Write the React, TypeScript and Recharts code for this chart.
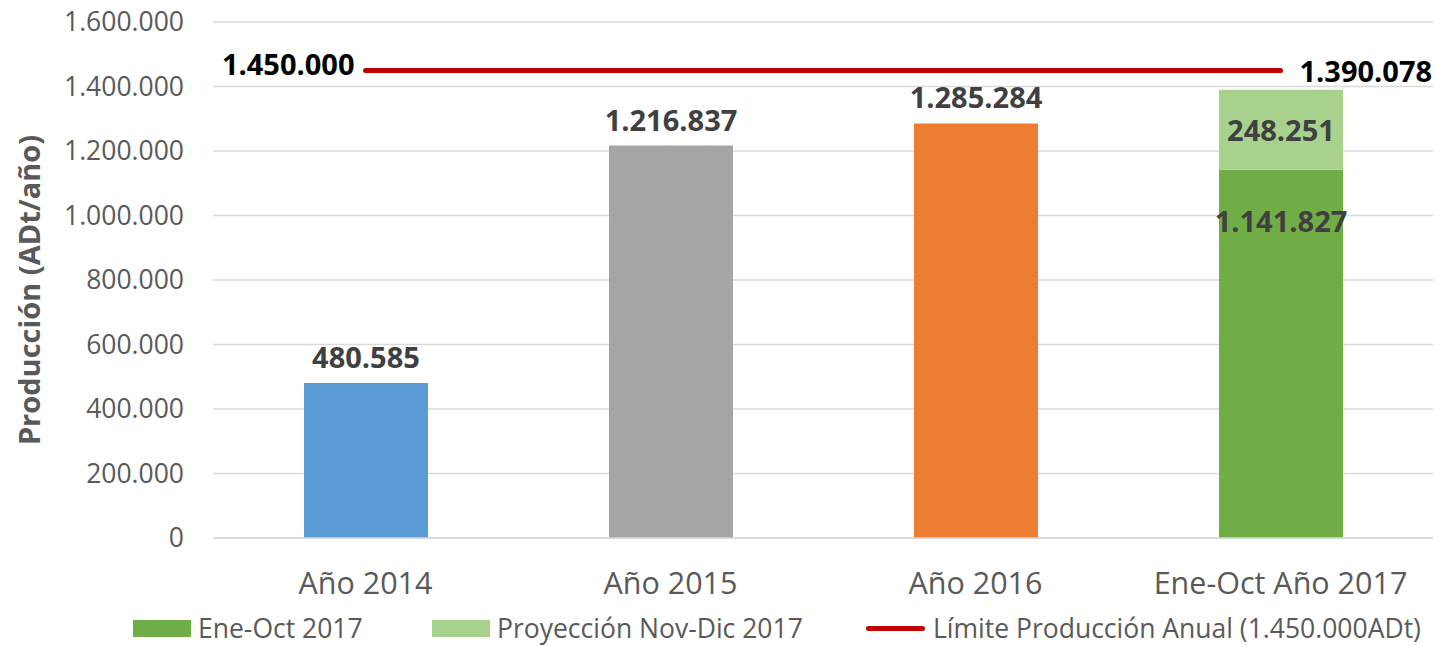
import React from 'react';
import { ComposedChart, Bar, Line, XAxis, YAxis, CartesianGrid, Cell, LabelList, Legend } from 'recharts';

const categories = ['Año 2014', 'Año 2015', 'Año 2016', 'Ene-Oct Año 2017'];
const mainValues = [480585, 1216837, 1285284, 1141827];
const projValues: (number | null)[] = [null, null, null, 248251];
const limitValue = 1450000;
const barColors = ['#5B9BD5', '#A5A5A5', '#ED7D31', '#70AD47'];
const projColor = '#A9D18E';
const limitColor = '#C00000';
const yTicks = [0, 200000, 400000, 600000, 800000, 1000000, 1200000, 1400000, 1600000];
const legendItems = [
  { name: 'Ene-Oct 2017', color: '#70AD47', type: 'rect', width: 299 },
  { name: 'Proyección Nov-Dic 2017', color: '#A9D18E', type: 'rect', width: 434 },
  { name: 'Límite Producción Anual (1.450.000ADt)', color: '#C00000', type: 'line', width: 560 },
];

const data = categories.map((cat, i) => ({
  cat,
  main: mainValues[i],
  proj: projValues[i],
  limit: limitValue,
  total: mainValues[i] + (projValues[i] ?? 0),
}));

const fmt = (n: number) => String(Math.round(n)).replace(/\B(?=(\d{3})+(?!\d))/g, '.');
const FONT = '"Open Sans", sans-serif';
const LABEL_SIZE = 29;

const getBox = (p: any) => {
  const vb = p.viewBox && typeof p.viewBox.x === 'number' ? p.viewBox : p;
  return { x: vb.x ?? 0, y: vb.y ?? 0, width: vb.width ?? 0, height: vb.height ?? 0 };
};

const MainLabel = (p: any) => {
  const { x, y, width } = getBox(p);
  const idx = p.index;
  if (idx === 3) {
    return (
      <text x={x + width / 2} y={y + 42} dy="0.71em" textAnchor="middle" fill="#404040"
        fontFamily={FONT} fontSize={LABEL_SIZE} fontWeight={700}>{fmt(p.value)}</text>
    );
  }
  return (
    <text x={x + width / 2} y={y - 15} textAnchor="middle" fill="#404040"
      fontFamily={FONT} fontSize={LABEL_SIZE} fontWeight={700}>{fmt(p.value)}</text>
  );
};

const ProjLabel = (p: any) => {
  const { x, y, width, height } = getBox(p);
  if (p.value == null) return null;
  return (
    <text x={x + width / 2} y={y + height / 2 + 4} dominantBaseline="middle" textAnchor="middle" fill="#404040"
      fontFamily={FONT} fontSize={LABEL_SIZE} fontWeight={700}>{fmt(p.value)}</text>
  );
};

const LimitLabel = (p: any) => {
  const { x, y } = getBox(p);
  const idx = p.index;
  if (idx === 0) {
    return (
      <text x={x - 11} y={y - 3} dominantBaseline="middle" textAnchor="end" fill="#000000"
        fontFamily={FONT} fontSize={LABEL_SIZE} fontWeight={700}>{fmt(limitValue)}</text>
    );
  }
  if (idx === data.length - 1) {
    return (
      <text x={x + 19} y={y + 4} dominantBaseline="middle" textAnchor="start" fill="#000000"
        fontFamily={FONT} fontSize={LABEL_SIZE} fontWeight={700}>{fmt(data[idx].total)}</text>
    );
  }
  return null;
};

const YLabel = (p: any) => {
  const vb = p.viewBox || { x: 0, y: 0, width: 0, height: 0 };
  const cx = 32;
  const cy = vb.y + vb.height / 2 + 10;
  return (
    <text x={cx} y={cy} transform={`rotate(-90, ${cx}, ${cy})`} textAnchor="middle" dominantBaseline="middle"
      fill="#595959" fontFamily={FONT} fontSize={29} fontWeight={700}>Producción (ADt/año)</text>
  );
};

const LegendContent = () => (
  <div style={{ display: 'flex', alignItems: 'center', boxSizing: 'border-box', height: 34, paddingLeft: 133, paddingBottom: 2, fontFamily: FONT, fontSize: 26.5, color: '#595959' }}>
    {legendItems.map((it) => (
      <div key={it.name} style={{ display: 'flex', alignItems: 'center', width: it.width, whiteSpace: 'nowrap', height: 28 }}>
        {it.type === 'rect' ? (
          <div style={{ width: 58, height: 17, background: it.color, marginRight: 7 }} />
        ) : (
          <div style={{ width: 59, height: 5, borderRadius: 3, background: it.color, marginRight: 8 }} />
        )}
        <div style={{ display: 'inline-block', lineHeight: '28px', height: 28 }}>{it.name}</div>
      </div>
    ))}
  </div>
);

export default function App() {
  return (
    <div style={{ position: 'absolute', left: 0, top: 0, width: 1439, height: 646, background: '#fff' }}>
      <ComposedChart width={1439} height={646} data={data} margin={{ top: 22, right: 6, bottom: 0, left: 0 }} barCategoryGap={0}>
        <CartesianGrid vertical={false} stroke="#D9D9D9" strokeWidth={1.5} />
        <XAxis dataKey="cat" height={74} axisLine={{ stroke: '#D9D9D9', strokeWidth: 1.5 }} tickLine={false}
          tickSize={0} tickMargin={34}
          tick={{ fill: '#595959', fontSize: 30.5, fontFamily: FONT }} interval={0} />
        <YAxis width={213} domain={[0, 1600000]} ticks={yTicks} axisLine={false} tickLine={false}
          tickSize={0} tickMargin={29} tickFormatter={fmt}
          tick={{ fill: '#595959', fontSize: 26.5, fontFamily: FONT }}
          label={{ content: <YLabel /> }} />
        <Legend verticalAlign="bottom" height={34} content={<LegendContent />} />
        <Bar dataKey="main" stackId="a" barSize={124} isAnimationActive={false} name="Ene-Oct 2017">
          {data.map((d, i) => <Cell key={d.cat} fill={barColors[i]} />)}
          <LabelList dataKey="main" content={<MainLabel />} />
        </Bar>
        <Bar dataKey="proj" stackId="a" barSize={124} fill={projColor} isAnimationActive={false} name="Proyección Nov-Dic 2017">
          <LabelList dataKey="proj" content={<ProjLabel />} />
        </Bar>
        <Line dataKey="limit" stroke={limitColor} strokeWidth={5} strokeLinecap="round" dot={false} activeDot={false}
          isAnimationActive={false} name="Límite Producción Anual (1.450.000ADt)">
          <LabelList dataKey="limit" content={<LimitLabel />} />
        </Line>
      </ComposedChart>
    </div>
  );
}
